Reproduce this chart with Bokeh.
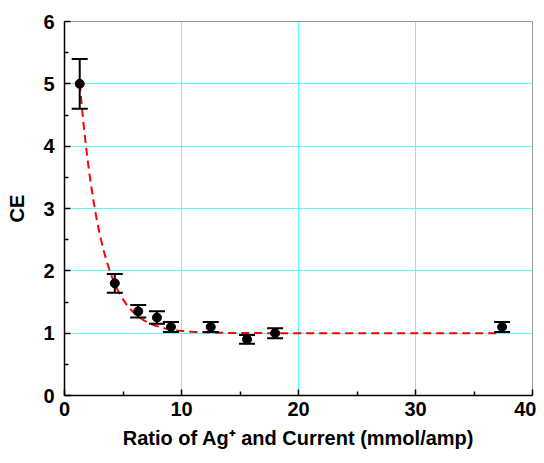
import numpy as np
from bokeh.plotting import figure
from bokeh.models import ColumnDataSource, Range1d, FixedTicker, Whisker, TeeHead
from bokeh.embed import file_html
from bokeh.resources import INLINE

# data
ratio = [1.3, 4.3, 6.3, 7.9, 9.1, 12.5, 15.6, 18.0, 37.4]
ce = [5.0, 1.8, 1.35, 1.25, 1.1, 1.1, 0.9, 1.0, 1.1]
err = [0.4, 0.15, 0.1, 0.1, 0.08, 0.08, 0.07, 0.08, 0.08]

# exponential decay fit parameters (y = y0 + A*exp(-x/t))
fit_y0 = 1.0
fit_A = 8.1
fit_t = 1.85

x_ticks = [0, 10, 20, 30, 40]
y_ticks = [0, 1, 2, 3, 4, 5, 6]

p = figure(width=536, height=455, output_backend="svg", toolbar_location=None,
           x_range=Range1d(0, 40), y_range=Range1d(0, 6),
           min_border_left=64, min_border_right=4, min_border_top=21, min_border_bottom=60)

p.background_fill_color = "white"
p.border_fill_color = "white"
p.outline_line_color = "#999999"
p.outline_line_width = 1

font = "Liberation Sans"
for ax in (p.xaxis, p.yaxis):
    ax.axis_line_color = "black"
    ax.axis_line_width = 1.5
    ax.major_tick_line_color = "black"
    ax.minor_tick_line_color = "black"
    ax.major_tick_line_width = 1.5
    ax.minor_tick_line_width = 1.5
    ax.major_tick_in = 6
    ax.major_tick_out = 0
    ax.minor_tick_in = 4
    ax.minor_tick_out = 0
    ax.major_label_text_font = font
    ax.major_label_text_font_style = "bold"
    ax.major_label_text_font_size = "20px"
    ax.major_label_text_color = "black"
    ax.axis_label_text_font = font
    ax.axis_label_text_font_style = "bold"
    ax.axis_label_text_font_size = "20px"
    ax.axis_label_text_color = "black"

p.xaxis.ticker = FixedTicker(ticks=x_ticks, minor_ticks=[5, 15, 25, 35])
p.yaxis.ticker = FixedTicker(ticks=y_ticks, minor_ticks=[0.5, 1.5, 2.5, 3.5, 4.5, 5.5])
p.xaxis.axis_label = "Ratio of Ag\u207a and Current (mmol/amp)"
p.yaxis.axis_label = "CE"
p.xaxis.major_label_standoff = 6
p.yaxis.major_label_standoff = 10
p.xaxis.axis_label_standoff = 8
p.yaxis.axis_label_standoff = 12

p.xgrid.ticker = FixedTicker(ticks=[10, 20, 30])
p.ygrid.ticker = FixedTicker(ticks=[1, 2, 3, 4, 5])
p.xgrid.grid_line_color = "#55ffff"
p.ygrid.grid_line_color = "#55ffff"
p.xgrid.grid_line_width = 1
p.ygrid.grid_line_width = 1

# fit curve
xf = np.linspace(ratio[0], 37.0, 400)
yf = fit_y0 + fit_A * np.exp(-xf / fit_t)
p.line(xf, yf, line_color="red", line_width=2, line_dash="8 5")

src = ColumnDataSource(data=dict(x=ratio, y=ce,
                                 upper=[a + b for a, b in zip(ce, err)],
                                 lower=[a - b for a, b in zip(ce, err)]))
wh = Whisker(base="x", upper="upper", lower="lower", source=src, dimension="height",
             line_color="black", line_width=2, level="glyph",
             upper_head=TeeHead(size=16, line_color="black", line_width=2),
             lower_head=TeeHead(size=16, line_color="black", line_width=2))
p.add_layout(wh)
p.scatter("x", "y", source=src, size=9, color="black")

open("out.html", "w").write(file_html(p, INLINE))
